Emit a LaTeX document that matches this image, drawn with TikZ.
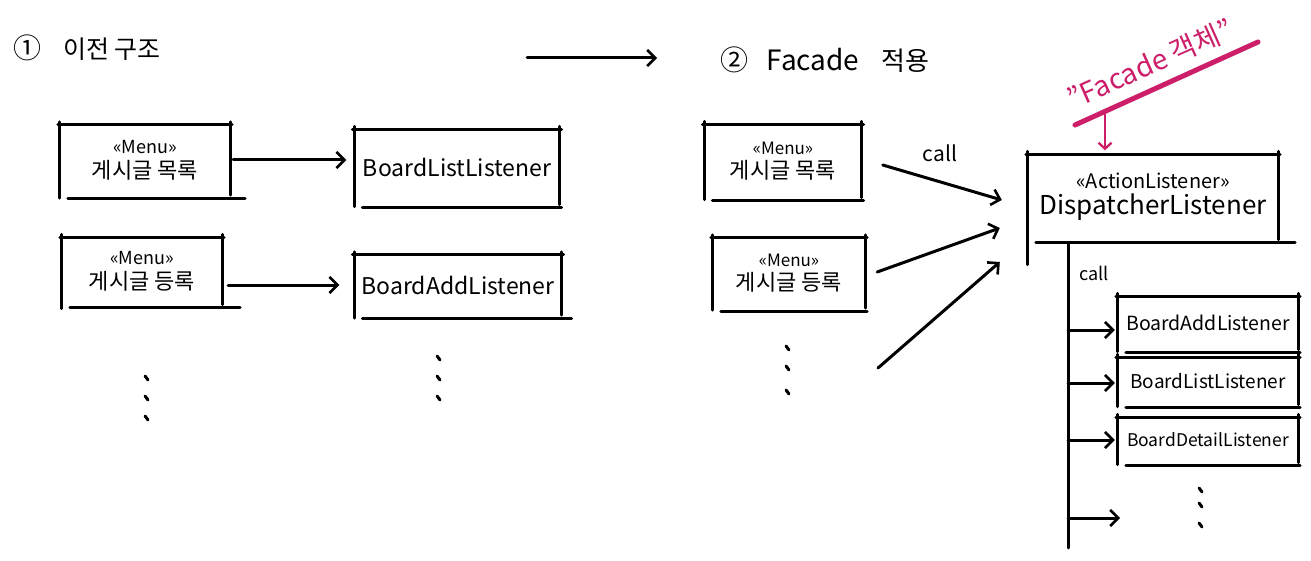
\documentclass[tikz,border=0pt]{standalone}
\usepackage{fontspec}
\setmainfont{Noto Sans CJK KR}
\usetikzlibrary{arrows.meta,calc}
\definecolor{pinkink}{RGB}{205,30,105}
\newcommand{\myfs}[1]{\fontsize{#1}{#1}\selectfont}
\newcommand{\skbox}[3]{%
  \draw[ink] ([xshift=-2pt]#1.north west) -- ([xshift=2pt]#1.north east);
  \draw[ink] ([yshift=3pt]#1.north west) -- ([yshift=-#2]#1.south west);
  \draw[ink] ([yshift=3pt]#1.north east) -- (#1.south east);
  \draw[ink] ([xshift=8pt,yshift=-3pt]#1.south west) -- ([xshift=#3,yshift=-3pt]#1.south east);
}
\begin{document}
\begin{tikzpicture}[x=1pt,y=-1pt,
  ink/.style={line width=3pt,line cap=round,line join=round},
  arr/.style={ink,-{Straight Barb[length=8pt,width=16pt,line width=2.6pt]}},
  pinkarr/.style={pinkink,line width=2.6pt,line cap=round,-{Straight Barb[length=6pt,width=13pt,line width=2.3pt]}},
  bx/.style={inner sep=0pt,align=center},
  lbl/.style={inner sep=0pt}]
\useasboundingbox (0,0) rectangle (1311,561);
\fill[white] (0,0) rectangle (1311,561);

% titles
\node[lbl] (t1) at (87,48) {\myfs{28}①\hspace{22pt}\myfs{25}이전 구조};
\node[lbl] (t2) at (825,60) {\myfs{28}②\hspace{18pt}Facade\hspace{22pt}\myfs{26}적용};
\coordinate (ta) at (527,58);
\coordinate (tb) at (657,58);
\draw[arr] (ta) -- (tb);

% left part
\node[bx,minimum width=170pt,minimum height=70pt] (m1) at (145,160)
  {\myfs{18}«Menu»\\[6pt]\myfs{22}게시글 목록};
\node[bx,minimum width=205pt,minimum height=75pt] (bll) at (457,167)
  {\myfs{23}BoardListListener};
\node[bx,minimum width=160pt,minimum height=67pt] (m2) at (142,271)
  {\myfs{18}«Menu»\\[6pt]\myfs{22}게시글 등록};
\node[bx,minimum width=207pt,minimum height=60pt] (bal) at (458,285)
  {\myfs{23}BoardAddListener};
\skbox{m1}{3pt}{15pt}
\skbox{bll}{2pt}{2pt}
\skbox{m2}{4pt}{18pt}
\skbox{bal}{3pt}{10pt}
\draw[arr] ([xshift=3pt]m1.east) -- ([xshift=-8pt]m1.east -| bll.west);
\draw[arr] ([xshift=6pt]m2.east |- bal.west) -- ([xshift=-15pt]bal.west);
\foreach \yy in {378,398,418} \draw[ink] (145,\yy-2) -- (148,\yy+2);
\foreach \yy in {358,378,398} \draw[ink] (437,\yy-2) -- (440,\yy+2);

% middle part
\node[bx,minimum width=157pt,minimum height=73pt] (m3) at (783,161)
  {\myfs{17}«Menu»\\[5pt]\myfs{22}게시글 목록};
\node[bx,minimum width=152pt,minimum height=70pt] (m4) at (789,273)
  {\myfs{17}«Menu»\\[5pt]\myfs{22}게시글 등록};
\skbox{m3}{2pt}{2pt}
\skbox{m4}{2pt}{2pt}
\foreach \yy in {348,368,392} \draw[ink] (786,\yy-2) -- (789,\yy+2);

% dispatcher
\node[bx,minimum width=250pt,minimum height=85pt] (disp) at (1153,197)
  {\myfs{20}«ActionListener»\\[4pt]\myfs{26}DispatcherListener};
\skbox{disp}{25pt}{17pt}

\coordinate (free3) at (878,368);
\draw[arr] ([xshift=21pt,yshift=-4pt]m3.east) -- ([xshift=-26pt,yshift=-3pt]disp.west);
\draw[arr] ([xshift=12pt,yshift=1pt]m4.east) -- ([xshift=-28pt,yshift=-31pt]disp.west);
\draw[arr] (free3) -- ([xshift=-28pt,yshift=-65pt]disp.west);
\node[lbl] (call1) at (940,153) {\myfs{21}call};

% pink annotation
\node[lbl,text=pinkink,rotate=24] (fac) at (1150,64) {\myfs{28}"Facade 객체"};
\coordinate (ul1) at (1075,125);
\coordinate (ul2) at (1258,42);
\draw[pinkink,line width=5pt,line cap=round] (ul1) -- (ul2);
\coordinate (pa) at (1105,113);
\draw[pinkarr] (pa) -- ([yshift=4pt]pa |- disp.north);

% sub listeners
\node[bx,minimum width=180pt,minimum height=53pt] (s1) at (1208,323)
  {\myfs{19.5}BoardAddListener};
\node[bx,minimum width=180pt,minimum height=47pt] (s2) at (1208,381)
  {\myfs{19}BoardListListener};
\node[bx,minimum width=180pt,minimum height=45pt] (s3) at (1208,440)
  {\myfs{17.5}BoardDetailListener};
\skbox{s1}{2pt}{2pt}
\skbox{s2}{2pt}{2pt}
\skbox{s3}{2pt}{2pt}

\coordinate (trb) at (1068,548);
\coordinate (trt) at (1068,243);
\draw[ink] (trt) -- (trb);
\node[lbl] (call2) at (1094,273) {\myfs{18}call};
\draw[arr] ([yshift=-7pt]s1.west -| trt) -- ([xshift=-3pt,yshift=-7pt]s1.west);
\draw[arr] ([yshift=-2pt]s2.west -| trt) -- ([xshift=-3pt,yshift=-2pt]s2.west);
\draw[arr] (s3.west -| trt) -- ([xshift=-3pt]s3.west);
\coordinate (free4) at (1120,518);
\draw[arr] (free4 -| trt) -- (free4);
\foreach \yy in {490,505,525} \draw[ink] (1199,\yy-2) -- (1202,\yy+2);
\end{tikzpicture}
\end{document}
